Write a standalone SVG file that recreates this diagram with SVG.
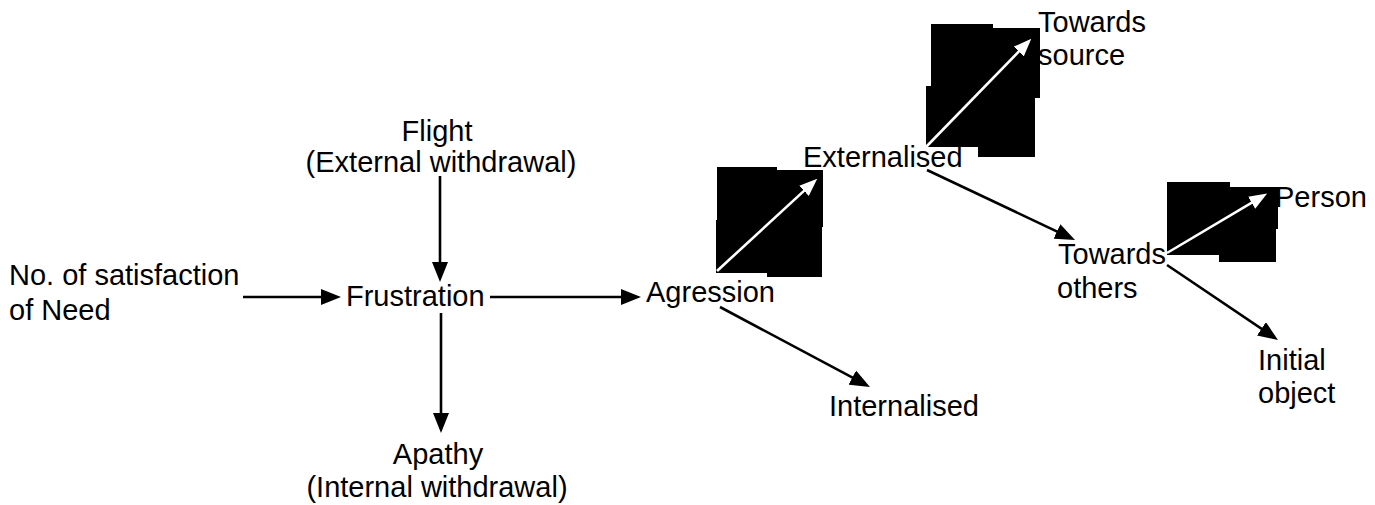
<svg xmlns="http://www.w3.org/2000/svg" width="1375" height="505" viewBox="0 0 1375 505">
<style>
  .t { font-family: "Liberation Sans", Arial, sans-serif; font-size: 29px; fill: #000; }
  .m { text-anchor: middle; }
  .c { stroke: #000; stroke-width: 2.6; fill: none; marker-end: url(#ah); }
  .w { stroke: #fff; stroke-width: 2.6; fill: none; marker-end: url(#wh); }
  .blk { fill: #000; }
</style>
<defs>
  <marker id="ah" viewBox="0 0 20 16" markerWidth="20" markerHeight="16" markerUnits="userSpaceOnUse" refX="12" refY="8" orient="auto">
    <path d="M0,0 L20,8 L0,16 z" fill="#000"/>
  </marker>
  <marker id="wh" viewBox="0 0 18 14" markerWidth="18" markerHeight="14" markerUnits="userSpaceOnUse" refX="11" refY="7" orient="auto">
    <path d="M0,0 L18,7 L0,14 z" fill="#fff"/>
  </marker>
</defs>
<rect width="1375" height="505" fill="#fff"/>

<g id="need"><text class="t" x="9" y="285">No. of satisfaction</text><text class="t" x="9" y="320">of Need</text></g>
<g id="flight"><text class="t m" x="437" y="141">Flight</text><text class="t m" x="441" y="172">(External withdrawal)</text></g>
<g id="frustration"><text class="t" x="346" y="306">Frustration</text></g>
<g id="apathy"><text class="t m" x="438" y="464">Apathy</text><text class="t m" x="437" y="497">(Internal withdrawal)</text></g>
<g id="agression"><text class="t" x="646" y="302">Agression</text></g>
<g id="internalised"><text class="t" x="829" y="416">Internalised</text></g>
<g id="externalised"><text class="t" x="803" y="167">Externalised</text></g>
<g id="towards-source"><text class="t" x="1038" y="32">Towards</text><text class="t" x="1038" y="65">source</text></g>
<g id="towards-others"><text class="t" x="1058" y="264">Towards</text><text class="t" x="1057" y="298">others</text></g>
<g id="person"><text class="t" x="1275" y="207">Person</text></g>
<g id="initial-object"><text class="t" x="1258" y="370">Initial</text><text class="t" x="1258" y="403">object</text></g>

<g id="connectors">
  <line class="c" x1="243" y1="297" x2="333" y2="297"/>
  <line class="c" x1="490" y1="297" x2="633" y2="297"/>
  <line class="c" x1="440" y1="176" x2="440" y2="274"/>
  <line class="c" x1="441" y1="313" x2="441" y2="425"/>
  <line class="c" x1="720" y1="307" x2="862.9" y2="383.2"/>
  <line class="c" x1="927" y1="170" x2="1067.8" y2="236.6"/>
  <line class="c" x1="1167" y1="265" x2="1271.4" y2="335.5"/>

  <g id="box1">
    <rect class="blk" x="717" y="167" width="60" height="58"/>
    <rect class="blk" x="775" y="170" width="48" height="57"/>
    <rect class="blk" x="716" y="220" width="53" height="53"/>
    <rect class="blk" x="767" y="225" width="55" height="52"/>
  </g>
  <g id="box2">
    <rect class="blk" x="931" y="24" width="62" height="72"/>
    <rect class="blk" x="991" y="28" width="49" height="70"/>
    <rect class="blk" x="926" y="86" width="54" height="61"/>
    <rect class="blk" x="978" y="96" width="57" height="61"/>
  </g>
  <g id="box3">
    <rect class="blk" x="1167" y="182" width="63" height="45"/>
    <rect class="blk" x="1228" y="187" width="50" height="42"/>
    <rect class="blk" x="1167" y="222" width="54" height="33"/>
    <rect class="blk" x="1219" y="227" width="57" height="35"/>
  </g>

  <line class="w" x1="717" y1="271" x2="812.1" y2="183.4"/>
  <line class="w" x1="926" y1="147" x2="1026.4" y2="43.7"/>
  <line class="w" x1="1167" y1="253" x2="1261.1" y2="197.1"/>
</g>
</svg>
